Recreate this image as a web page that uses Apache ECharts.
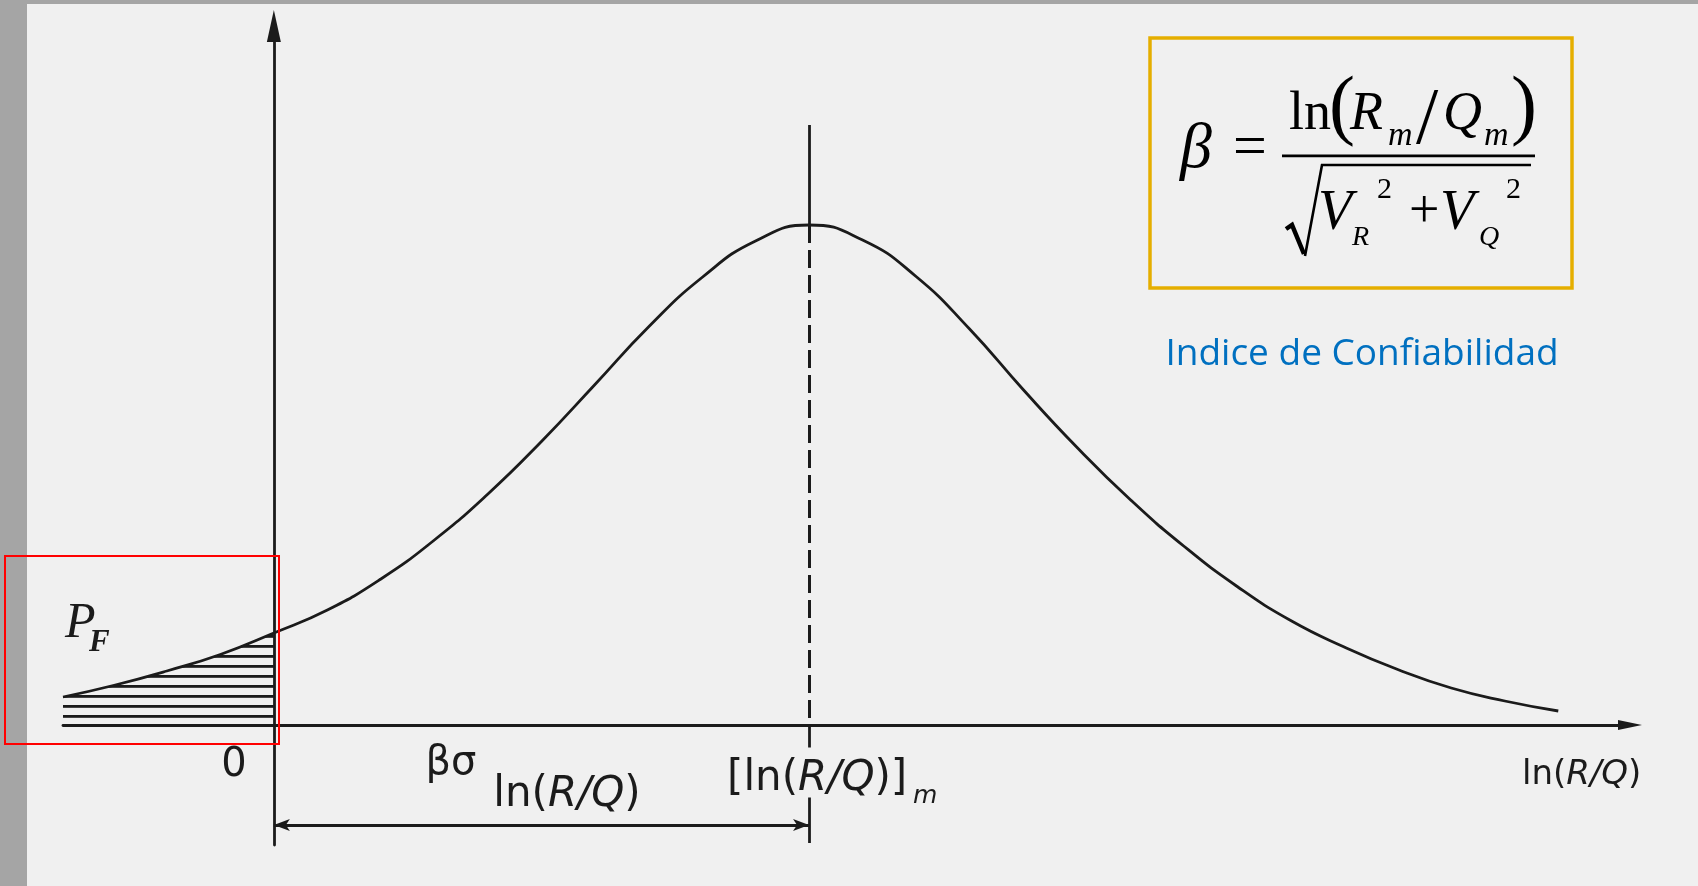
<!DOCTYPE html>
<html>
<head>
<meta charset="utf-8">
<script src="https://cdn.jsdelivr.net/npm/echarts@6/dist/echarts.min.js"></script>
<style>
  html, body { margin: 0; padding: 0; background: #f0f0f0; overflow: hidden; }
  #chart { width: 1698px; height: 886px; }
</style>
</head>
<body>
<div id="chart"></div>
<script>
// ln(R/Q) along the horizontal axis (origin = failure boundary), density on the vertical axis
const lnRQ    = [-1.97, -1.5, -1, -0.5, 0, 0.5, 1, 1.5, 2, 2.5, 3, 3.5, 4, 4.5, 5, 5.5, 6, 6.5, 7, 7.5, 8, 8.5, 9, 9.5, 10, 10.5, 11, 11.5, 12];
const density = [0.056, 0.079, 0.108, 0.141, 0.184, 0.23, 0.292, 0.37, 0.462, 0.567, 0.681, 0.796, 0.895, 0.968, 1.0, 0.97, 0.897, 0.792, 0.671, 0.556, 0.451, 0.358, 0.277, 0.209, 0.156, 0.111, 0.074, 0.048, 0.028];

// mean of ln(R/Q) and the reference marks tied to it
const meanLnRQ = 5;
const meanLineTop = 1.2;
const dimLineY = -0.2;
const belowAxisEnd = -0.236;

const INK = '#1b1b1b';
const curve = lnRQ.map((x, i) => [x, density[i]]);
const failureTail = curve.filter(p => p[0] <= 0);
const peak = density[lnRQ.indexOf(meanLnRQ)];

// horizontal hatching used for the failure-probability area
function hatchPattern() {
  const c = document.createElement('canvas');
  c.width = 8; c.height = 10;
  const g = c.getContext('2d');
  g.fillStyle = INK;
  g.fillRect(0, 5, 8, 2.8);
  return c;
}

function txt(x, y, text, font, extra) {
  return {
    type: 'text', x: x, y: y, z: 20, silent: true,
    style: Object.assign({
      text: text, font: font, fill: INK,
      textAlign: 'left', textVerticalAlign: 'middle',
      align: 'left', verticalAlign: 'middle'
    }, extra || {})
  };
}

const SERIF = '"Liberation Serif", "Times New Roman", serif';
const SANS = '"DejaVu Sans", sans-serif';

const rqRich = (size) => ({
  n: { font: size + 'px ' + SANS, fill: INK },
  i: { font: 'italic ' + size + 'px ' + SANS, fill: INK }
});

const chart = echarts.init(document.getElementById('chart'), null, { renderer: 'canvas' });

chart.setOption({
  backgroundColor: '#f0f0f0',
  animation: false,
  grid: { left: 63, right: 68, top: 26, bottom: 41, containLabel: false },
  xAxis: {
    type: 'value', min: -1.97, max: 12.67,
    axisLine: { onZero: true, symbol: ['none', 'triangle'], symbolSize: [10, 24],
      lineStyle: { color: INK, width: 2.8 } },
    axisTick: { show: false }, axisLabel: { show: false }, splitLine: { show: false }
  },
  yAxis: {
    type: 'value', min: -0.24, max: 1.398,
    axisLine: { onZero: true, symbol: ['none', 'triangle'], symbolSize: [14, 32],
      lineStyle: { color: INK, width: 2.8 } },
    axisTick: { show: false }, axisLabel: { show: false }, splitLine: { show: false }
  },
  series: [
    {
      name: 'P_F',
      type: 'line',
      data: failureTail,
      smooth: true,
      symbol: 'none',
      lineStyle: { width: 0 },
      areaStyle: { color: { image: hatchPattern(), repeat: 'repeat' }, opacity: 1 },
      z: 2
    },
    {
      name: 'ln(R/Q)',
      type: 'line',
      data: curve,
      smooth: true,
      symbol: 'none',
      lineStyle: { color: INK, width: 2.8 },
      z: 3,
      markLine: {
        silent: true,
        symbol: ['none', 'none'],
        label: { show: false },
        lineStyle: { color: INK, width: 2.8, type: 'solid' },
        data: [
          [{ coord: [meanLnRQ, meanLineTop] }, { coord: [meanLnRQ, peak] }],
          [{ coord: [meanLnRQ, peak], lineStyle: { type: [18, 7], width: 3 } },
           { coord: [meanLnRQ, 0], lineStyle: { type: [18, 7], width: 3 } }],
          [{ coord: [meanLnRQ, 0] }, { coord: [meanLnRQ, -0.045] }],
          [{ coord: [meanLnRQ, -0.145] }, { coord: [meanLnRQ, belowAxisEnd] }],
          [{ coord: [0, dimLineY], symbol: 'arrow', symbolSize: [9, 16] },
           { coord: [meanLnRQ, dimLineY], symbol: 'arrow', symbolSize: [9, 16] }]
        ]
      }
    }
  ],
  graphic: [
    // page frame strips
    { type: 'rect', z: -10, silent: true, shape: { x: 0, y: 0, width: 27, height: 886 }, style: { fill: '#a5a5a5' } },
    { type: 'rect', z: -10, silent: true, shape: { x: 0, y: 0, width: 1698, height: 4 }, style: { fill: '#a5a5a5' } },

    // axis labels
    txt(234, 766, '0', '40px ' + SANS, { textAlign: 'center', align: 'center' }),
    txt(451, 764, 'βσ', '40px ' + SANS, { textAlign: 'center', align: 'center' }),
    txt(567, 795, '{n|ln(}{i|R/Q}{n|)}', '42px ' + SANS, { rich: rqRich(42), textAlign: 'center', align: 'center' }),
    txt(727, 779, '{n|[ln(}{i|R/Q}{n|)]}', '42px ' + SANS, { rich: rqRich(42) }),
    txt(913, 796, 'm', 'italic 25px ' + SANS),
    txt(1522, 775, '{n|ln(}{i|R/Q}{n|)}', '34px ' + SANS, { rich: rqRich(34) }),

    // failure probability label and its highlight
    txt(65, 624, 'P', 'italic 50px ' + SERIF),
    txt(89, 643, 'F', 'bold italic 31px ' + SERIF),
    { type: 'rect', z: 30, silent: true, shape: { x: 5, y: 556, width: 274, height: 188 },
      style: { fill: 'none', stroke: '#ff0000', lineWidth: 2 } },

    // reliability index formula
    { type: 'rect', z: 30, silent: true, shape: { x: 1150, y: 38, width: 422, height: 250 },
      style: { fill: 'none', stroke: '#e5ae00', lineWidth: 3.5 } },
    txt(1180, 150, 'β', 'italic 64px ' + SERIF, { fill: '#000' }),
    txt(1233, 149, '=', '60px ' + SERIF, { fill: '#000' }),
    txt(1289, 115, 'ln', '54px ' + SERIF, { fill: '#000' }),
    txt(1329, 110, '(', '78px ' + SERIF, { fill: '#000' }),
    txt(1350, 115, 'R', 'italic 54px ' + SERIF, { fill: '#000' }),
    txt(1388, 136, 'm', 'italic 34px ' + SERIF, { fill: '#000' }),
    txt(1416, 122, '/', '80px ' + SERIF, { fill: '#000' }),
    txt(1443, 115, 'Q', 'italic 54px ' + SERIF, { fill: '#000' }),
    txt(1484, 136, 'm', 'italic 34px ' + SERIF, { fill: '#000' }),
    txt(1511, 110, ')', '78px ' + SERIF, { fill: '#000' }),
    { type: 'rect', z: 20, silent: true, shape: { x: 1282, y: 154.5, width: 253, height: 2.8 }, style: { fill: '#000' } },
    { type: 'polyline', z: 20, silent: true,
      shape: { points: [[1305, 256], [1322, 165], [1531, 165]] },
      style: { stroke: '#000', lineWidth: 2.6, fill: 'none', lineJoin: 'miter' } },
    { type: 'polyline', z: 20, silent: true,
      shape: { points: [[1286, 229], [1292, 225], [1304, 254]] },
      style: { stroke: '#000', lineWidth: 4.5, fill: 'none', lineJoin: 'miter' } },
    txt(1318, 214, 'V', 'italic 56px ' + SERIF, { fill: '#000' }),
    txt(1352, 238, 'R', 'italic 28px ' + SERIF, { fill: '#000' }),
    txt(1377, 190, '2', '30px ' + SERIF, { fill: '#000' }),
    txt(1409, 213, '+', '54px ' + SERIF, { fill: '#000' }),
    txt(1440, 214, 'V', 'italic 56px ' + SERIF, { fill: '#000' }),
    txt(1479, 238, 'Q', 'italic 28px ' + SERIF, { fill: '#000' }),
    txt(1506, 190, '2', '30px ' + SERIF, { fill: '#000' }),

    txt(1362, 354, 'Indice de Confiabilidad', '37px "Open Sans", sans-serif',
      { fill: '#0070c0', textAlign: 'center', align: 'center' })
  ]
});
</script>
</body>
</html>
